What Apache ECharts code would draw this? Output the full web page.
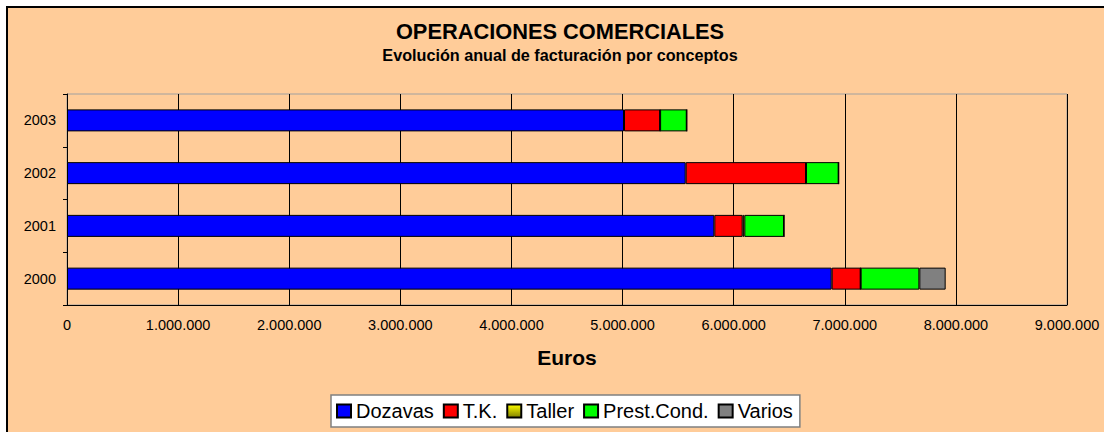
<!DOCTYPE html>
<html>
<head>
<meta charset="utf-8">
<script src="https://cdn.jsdelivr.net/npm/echarts@6/dist/echarts.min.js"></script>
<style>
  body { margin: 0; background: #fff; }
  #chart { width: 1104px; height: 432px; }
</style>
</head>
<body>
<div id="chart"></div>
<script>
// data
const years = ['2000', '2001', '2002', '2003'];
const dozavas = [6882000, 5826000, 5568000, 5013000];
const tk = [261000, 255000, 1083000, 325000];
const taller = [0, 15000, 0, 0];
const prestCond = [528000, 357000, 294000, 240000];
const varios = [237000, 0, 0, 0];

window.addEventListener("load", () => {
  let chart = echarts.init(document.getElementById("chart"), null, { renderer: 'svg' });

  const fmt = v => String(v).replace(/\B(?=(\d{3})+(?!\d))/g, '.');
  const font = 'Arial, "Liberation Sans", sans-serif';

  function bar(name, data, color) {
    return {
      name: name,
      type: 'bar',
      stack: 'total',
      barWidth: 22,
      data: data,
      itemStyle: { color: color, borderColor: '#000', borderWidth: 1 }
    };
  }

  // Taller is drawn with a yellow-to-olive gradient in the original
  const tallerColor = new echarts.graphic.LinearGradient(0, 0, 0, 1, [
    { offset: 0, color: '#FFFF00' },
    { offset: 1, color: '#808000' }
  ]);

  let option = {
    backgroundColor: '#fff',
    animation: false,
    textStyle: { fontFamily: font },
    graphic: [{
      type: 'rect', silent: true, z: -10,
      shape: { x: 7, y: 7, width: 1200, height: 600 },
      style: { fill: '#FFCC99', stroke: '#000', lineWidth: 2 }
    }],
    title: {
      text: 'OPERACIONES COMERCIALES',
      subtext: 'Evolución anual de facturación por conceptos',
      left: 560,
      textAlign: 'center',
      top: 20,
      padding: 0,
      itemGap: 5,
      textStyle: { fontFamily: font, fontSize: 21.8, fontWeight: 'bold', color: '#000' },
      subtextStyle: { fontFamily: font, fontSize: 16.2, fontWeight: 'bold', color: '#000' }
    },
    legend: {
      data: ['Dozavas', 'T.K.', 'Taller', 'Prest.Cond.', 'Varios'],
      left: 331,
      top: 395,
      backgroundColor: '#fff',
      borderColor: '#808080',
      borderWidth: 1.5,
      padding: [6, 7, 6, 5],
      icon: 'rect',
      itemWidth: 14,
      itemHeight: 13,
      itemGap: 9,
      textStyle: { fontFamily: font, fontSize: 20, color: '#000' }
    },
    grid: {
      left: 67, right: 37, top: 94, bottom: 127,
      show: true, borderColor: '#a0a0a0', borderWidth: 1
    },
    xAxis: {
      type: 'value',
      min: 0,
      max: 9000000,
      interval: 1000000,
      name: 'Euros',
      nameLocation: 'middle',
      nameGap: 42,
      nameTextStyle: { fontFamily: font, fontSize: 21, fontWeight: 'bold', color: '#000' },
      axisLine: { show: true, lineStyle: { color: '#000' } },
      axisTick: { show: false },
      axisLabel: { color: '#000', fontSize: 14.5, margin: 12, formatter: fmt },
      splitLine: { show: true, lineStyle: { color: '#000', width: 1 } }
    },
    yAxis: {
      type: 'category',
      data: years,
      axisLine: { show: true, lineStyle: { color: '#000' } },
      axisTick: { show: true, length: 4, lineStyle: { color: '#000' } },
      axisLabel: { color: '#000', fontSize: 14.5, margin: 11 }
    },
    series: [
      bar('Dozavas', dozavas, '#0000FF'),
      bar('T.K.', tk, '#FF0000'),
      bar('Taller', taller, tallerColor),
      bar('Prest.Cond.', prestCond, '#00FF00'),
      bar('Varios', varios, '#808080')
    ]
  };

  chart.setOption(option);
});
</script>
</body>
</html>
